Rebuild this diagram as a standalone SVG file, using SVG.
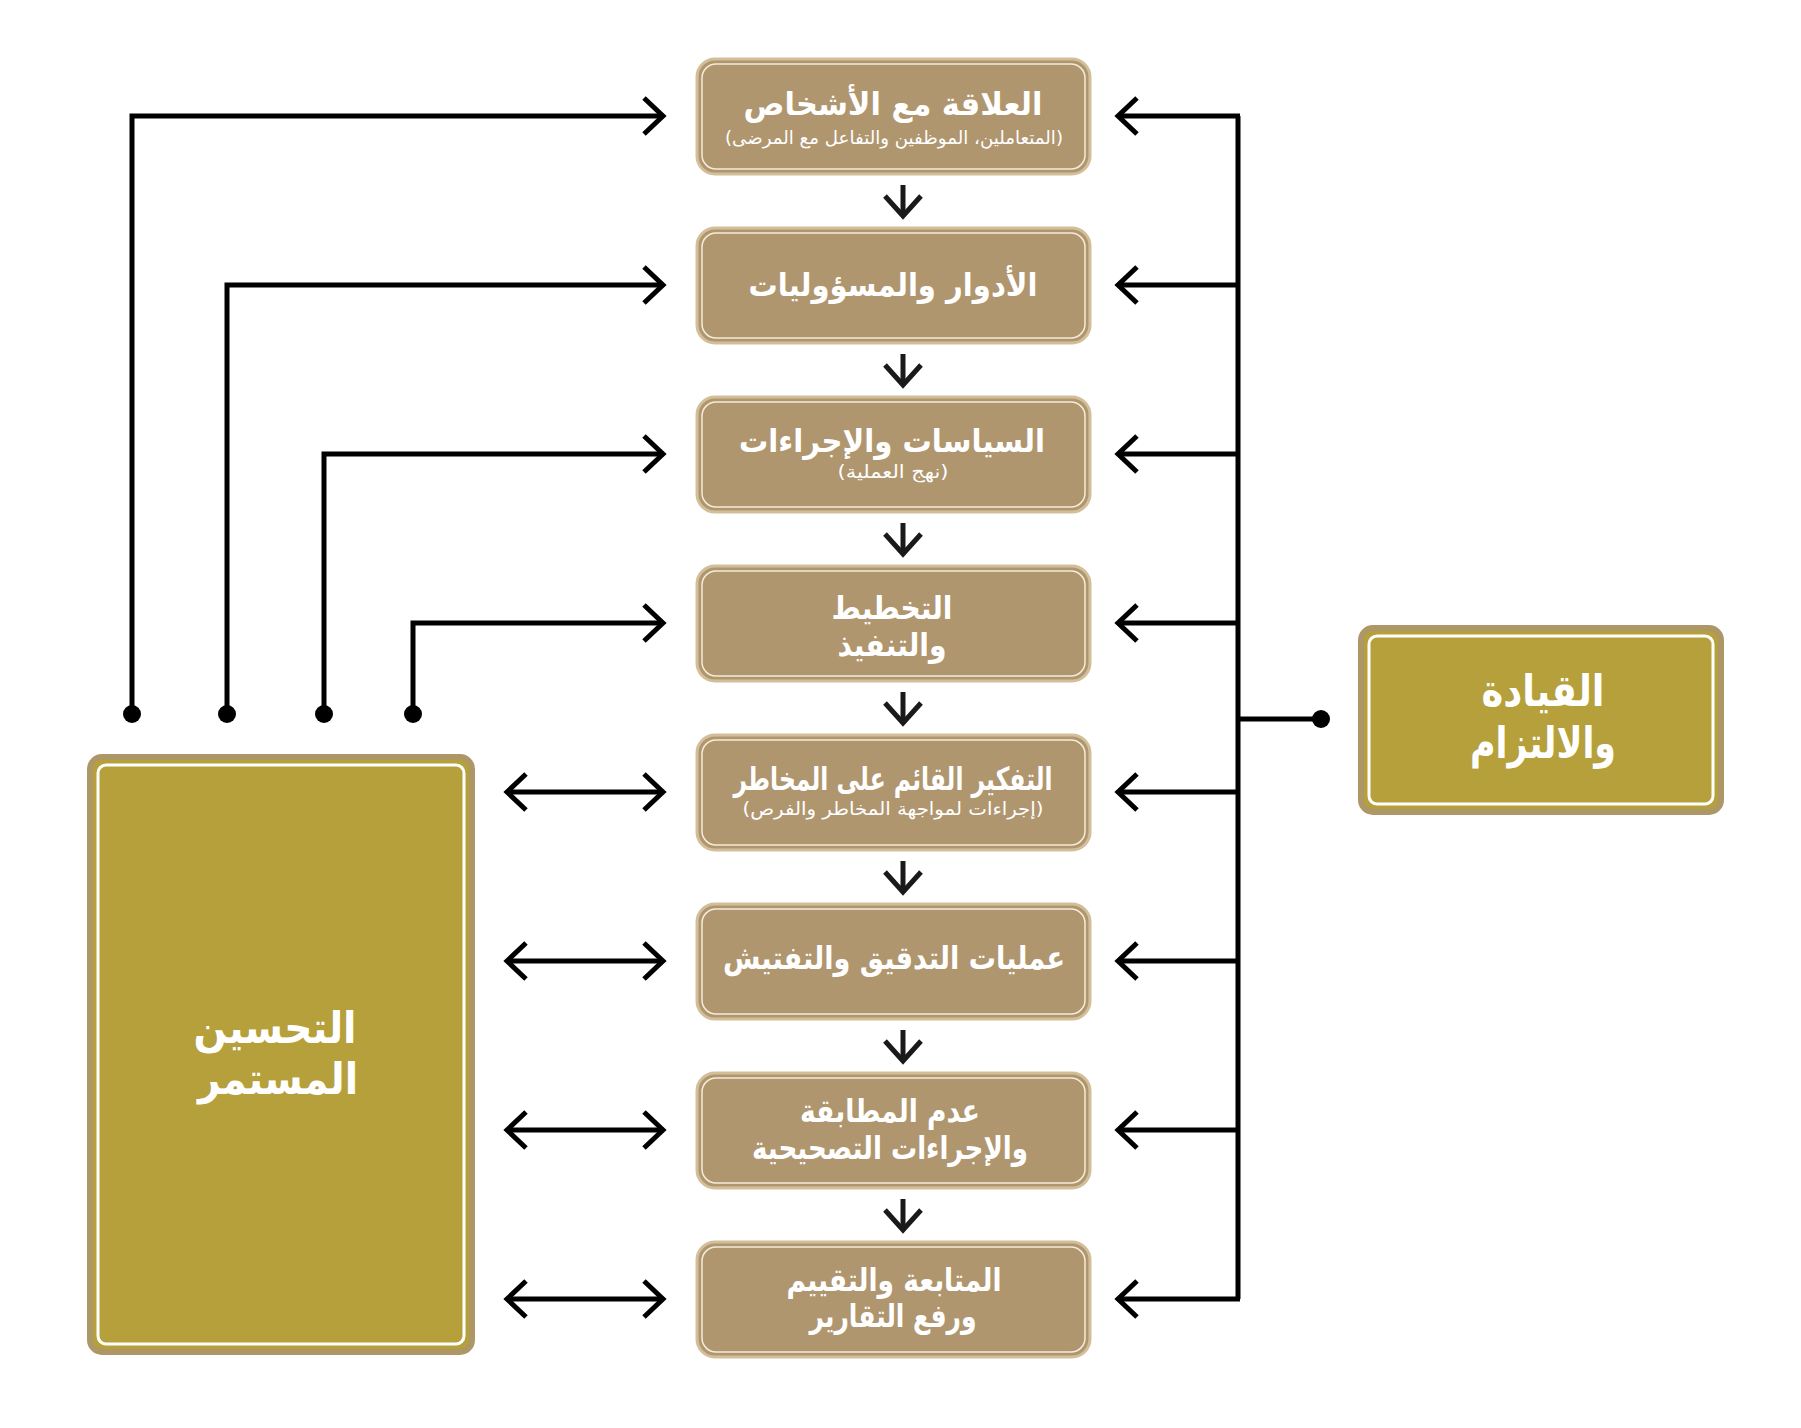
<svg xmlns="http://www.w3.org/2000/svg" width="1801" height="1428" viewBox="0 0 1801 1428">
<style>
.box{fill:#b0966e;stroke:#d2bf99;stroke-width:3}
.inner{fill:none;stroke:#f4ecda;stroke-width:1.5}
.obox{fill:#b6a03c;stroke:#ae9766;stroke-width:6}
.oinner{fill:none;stroke:#ffffff;stroke-width:3}
.t{font-family:"DejaVu Sans",sans-serif;fill:#ffffff;text-anchor:middle;font-weight:bold;font-size:32px}
.s{font-family:"DejaVu Sans",sans-serif;fill:#ffffff;text-anchor:middle;font-size:18px}
.big{font-family:"DejaVu Sans",sans-serif;fill:#ffffff;text-anchor:middle;font-size:44px;font-weight:bold}
.ln{fill:none;stroke:#000;stroke-width:5}
.dn{fill:none;stroke:#1a1a1a;stroke-width:5}
</style>
<defs>
<marker id="chev" viewBox="-24 -24 28 48" markerWidth="28" markerHeight="48" refX="0" refY="0" orient="auto-start-reverse" markerUnits="userSpaceOnUse">
<path d="M-19,-18 L0,0 L-19,18" fill="none" stroke="#000" stroke-width="5"/>
</marker>
<marker id="chevd" viewBox="-24 -24 28 48" markerWidth="28" markerHeight="48" refX="0" refY="0" orient="auto" markerUnits="userSpaceOnUse">
<path d="M-20,-18 L0,0 L-20,18" fill="none" stroke="#1a1a1a" stroke-width="5"/>
</marker>
</defs>

<g id="connectors">
<path class="dn" d="M903 185 V216" marker-end="url(#chevd)"/>
<path class="dn" d="M903 354 V385" marker-end="url(#chevd)"/>
<path class="dn" d="M903 523 V554" marker-end="url(#chevd)"/>
<path class="dn" d="M903 692 V723" marker-end="url(#chevd)"/>
<path class="dn" d="M903 861 V892" marker-end="url(#chevd)"/>
<path class="dn" d="M903 1030 V1061" marker-end="url(#chevd)"/>
<path class="dn" d="M903 1199 V1230" marker-end="url(#chevd)"/>
<path class="ln" d="M1238 116 V1299"/>
<path class="ln" d="M1238 719 H1321"/>
<circle cx="1321" cy="719" r="9" fill="#000"/>
<path class="ln" d="M1240 116 H1118" marker-end="url(#chev)"/>
<path class="ln" d="M1238 285 H1118" marker-end="url(#chev)"/>
<path class="ln" d="M1238 454 H1118" marker-end="url(#chev)"/>
<path class="ln" d="M1238 623 H1118" marker-end="url(#chev)"/>
<path class="ln" d="M1238 792 H1118" marker-end="url(#chev)"/>
<path class="ln" d="M1238 961 H1118" marker-end="url(#chev)"/>
<path class="ln" d="M1238 1130 H1118" marker-end="url(#chev)"/>
<path class="ln" d="M1240 1299 H1118" marker-end="url(#chev)"/>
<path class="ln" d="M132 714 V116 H663" marker-end="url(#chev)"/>
<path class="ln" d="M227 714 V285 H663" marker-end="url(#chev)"/>
<path class="ln" d="M324 714 V454 H663" marker-end="url(#chev)"/>
<path class="ln" d="M413 714 V623 H663" marker-end="url(#chev)"/>
<circle cx="132" cy="714" r="9" fill="#000"/>
<circle cx="227" cy="714" r="9" fill="#000"/>
<circle cx="324" cy="714" r="9" fill="#000"/>
<circle cx="413" cy="714" r="9" fill="#000"/>
<path class="ln" d="M507 792 H663" marker-start="url(#chev)" marker-end="url(#chev)"/>
<path class="ln" d="M507 961 H663" marker-start="url(#chev)" marker-end="url(#chev)"/>
<path class="ln" d="M507 1130 H663" marker-start="url(#chev)" marker-end="url(#chev)"/>
<path class="ln" d="M507 1299 H663" marker-start="url(#chev)" marker-end="url(#chev)"/>
</g>

<g id="n1">
<rect class="box" x="697" y="59" width="393" height="115" rx="18"/>
<rect class="inner" x="702" y="64" width="383" height="105" rx="14"/>
<text class="t" x="893" y="115" direction="rtl" textLength="299" lengthAdjust="spacingAndGlyphs">العلاقة مع الأشخاص</text>
<text class="s" x="894" y="144" direction="rtl" textLength="338" lengthAdjust="spacingAndGlyphs">(المتعاملين، الموظفين والتفاعل مع المرضى)</text>
</g>
<g id="n2">
<rect class="box" x="697" y="228" width="393" height="115" rx="18"/>
<rect class="inner" x="702" y="233" width="383" height="105" rx="14"/>
<text class="t" x="893" y="296" direction="rtl" textLength="289" lengthAdjust="spacingAndGlyphs">الأدوار والمسؤوليات</text>
</g>
<g id="n3">
<rect class="box" x="697" y="397" width="393" height="115" rx="18"/>
<rect class="inner" x="702" y="402" width="383" height="105" rx="14"/>
<text class="t" x="892" y="452" direction="rtl" textLength="306" lengthAdjust="spacingAndGlyphs">السياسات والإجراءات</text>
<text class="s" x="893" y="478" direction="rtl" textLength="111" lengthAdjust="spacingAndGlyphs">(نهج العملية)</text>
</g>
<g id="n4">
<rect class="box" x="697" y="566" width="393" height="115" rx="18"/>
<rect class="inner" x="702" y="571" width="383" height="105" rx="14"/>
<text class="t" x="892" y="619" direction="rtl" textLength="121" lengthAdjust="spacingAndGlyphs">التخطيط</text>
<text class="t" x="892" y="656" direction="rtl" textLength="109" lengthAdjust="spacingAndGlyphs">والتنفيذ</text>
</g>
<g id="n5">
<rect class="box" x="697" y="735" width="393" height="115" rx="18"/>
<rect class="inner" x="702" y="740" width="383" height="105" rx="14"/>
<text class="t" x="893" y="790" direction="rtl" textLength="319" lengthAdjust="spacingAndGlyphs">التفكير القائم على المخاطر</text>
<text class="s" x="893" y="815" direction="rtl" textLength="301" lengthAdjust="spacingAndGlyphs">(إجراءات لمواجهة المخاطر والفرص)</text>
</g>
<g id="n6">
<rect class="box" x="697" y="904" width="393" height="115" rx="18"/>
<rect class="inner" x="702" y="909" width="383" height="105" rx="14"/>
<text class="t" x="894" y="969" direction="rtl" textLength="342" lengthAdjust="spacingAndGlyphs">عمليات التدقيق والتفتيش</text>
</g>
<g id="n7">
<rect class="box" x="697" y="1073" width="393" height="115" rx="18"/>
<rect class="inner" x="702" y="1078" width="383" height="105" rx="14"/>
<text class="t" x="890" y="1122" direction="rtl" textLength="180" lengthAdjust="spacingAndGlyphs">عدم المطابقة</text>
<text class="t" x="890" y="1159" direction="rtl" textLength="276" lengthAdjust="spacingAndGlyphs">والإجراءات التصحيحية</text>
</g>
<g id="n8">
<rect class="box" x="697" y="1242" width="393" height="115" rx="18"/>
<rect class="inner" x="702" y="1247" width="383" height="105" rx="14"/>
<text class="t" x="894" y="1291" direction="rtl" textLength="215" lengthAdjust="spacingAndGlyphs">المتابعة والتقييم</text>
<text class="t" x="893" y="1327" direction="rtl" textLength="167" lengthAdjust="spacingAndGlyphs">ورفع التقارير</text>
</g>

<g id="leadership">
<rect class="obox" x="1361" y="628" width="360" height="184" rx="12"/>
<rect class="oinner" x="1369" y="636" width="344" height="168" rx="8"/>
<text class="big" x="1543" y="706" direction="rtl" textLength="123" lengthAdjust="spacingAndGlyphs">القيادة</text>
<text class="big" x="1543" y="758" direction="rtl" textLength="146" lengthAdjust="spacingAndGlyphs">والالتزام</text>
</g>

<g id="improvement">
<rect class="obox" x="90" y="757" width="382" height="595" rx="12"/>
<rect class="oinner" x="98" y="765" width="366" height="579" rx="8"/>
<text class="big" x="275" y="1043" direction="rtl" textLength="163" lengthAdjust="spacingAndGlyphs">التحسين</text>
<text class="big" x="278" y="1094" direction="rtl" textLength="160" lengthAdjust="spacingAndGlyphs">المستمر</text>
</g>
</svg>
